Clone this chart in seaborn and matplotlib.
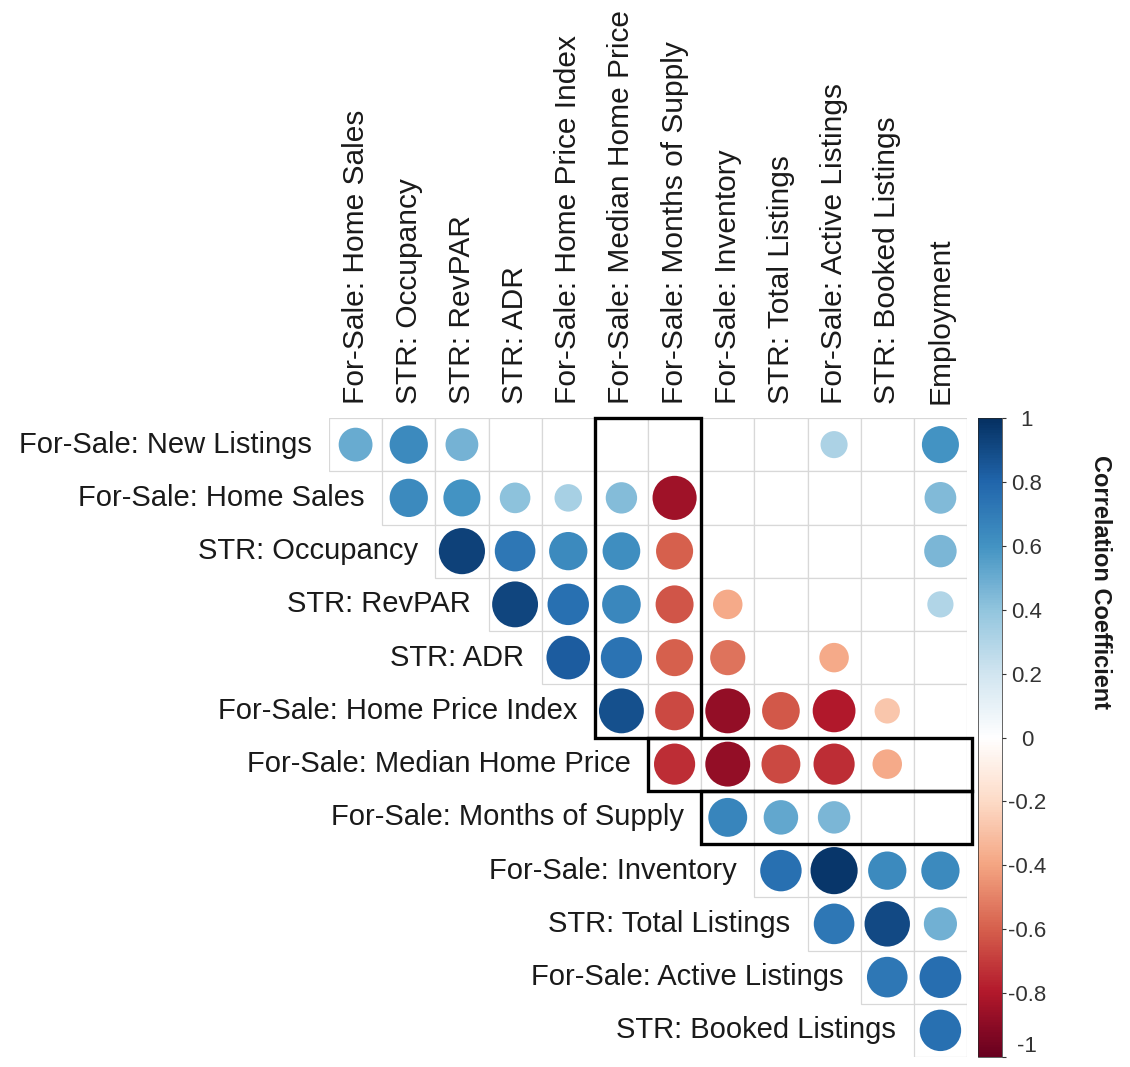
import numpy as np
import pandas as pd
import matplotlib
matplotlib.use("Agg")
import matplotlib.pyplot as plt
from matplotlib.colors import LinearSegmentedColormap, Normalize
from matplotlib.patches import Rectangle
from matplotlib.cm import ScalarMappable
import seaborn as sns

# ---------------- data ----------------
row_labels = ["For-Sale: New Listings", "For-Sale: Home Sales", "STR: Occupancy",
              "STR: RevPAR", "STR: ADR", "For-Sale: Home Price Index",
              "For-Sale: Median Home Price", "For-Sale: Months of Supply",
              "For-Sale: Inventory", "STR: Total Listings",
              "For-Sale: Active Listings", "STR: Booked Listings"]
col_labels = ["For-Sale: Home Sales", "STR: Occupancy", "STR: RevPAR", "STR: ADR",
              "For-Sale: Home Price Index", "For-Sale: Median Home Price",
              "For-Sale: Months of Supply", "For-Sale: Inventory",
              "STR: Total Listings", "For-Sale: Active Listings",
              "STR: Booked Listings", "Employment"]
N = None  # not significant (blank cell)
# each row starts at the column with the same index (upper triangle)
r_new_listings = [0.50, 0.64, 0.47, N, N, N, N, N, N, 0.32, N, 0.60]
r_home_sales = [0.64, 0.60, 0.41, 0.33, 0.43, -0.85, N, N, N, N, 0.44]
r_occupancy = [0.93, 0.72, 0.64, 0.62, -0.60, N, N, N, N, 0.46]
r_revpar = [0.92, 0.75, 0.65, -0.63, -0.38, N, N, N, 0.30]
r_adr = [0.83, 0.74, -0.60, -0.54, N, -0.38, N, N]
r_hpi = [0.88, -0.66, -0.88, -0.62, -0.80, -0.28, N]
r_mhp = [-0.74, -0.88, -0.66, -0.74, -0.38, N]
r_mos = [0.66, 0.52, 0.46, N, N]
r_inventory = [0.75, 0.97, 0.64, 0.64]
r_total = [0.72, 0.90, 0.48]
r_active = [0.72, 0.76]
r_booked = [0.75]
rows_values = [r_new_listings, r_home_sales, r_occupancy, r_revpar, r_adr, r_hpi,
               r_mhp, r_mos, r_inventory, r_total, r_active, r_booked]

# ---------------- long form table ----------------
recs = []
for i, vals in enumerate(rows_values):
    for k, v in enumerate(vals):
        j = i + k
        recs.append({"row": i, "col": j, "r": v})
cells = pd.DataFrame(recs)
pts = cells.dropna(subset=["r"]).copy()
pts["r"] = pts["r"].astype(float)
pts["absr"] = pts["r"].abs()

cmap = LinearSegmentedColormap.from_list(
    "corrRdBu",
    ["#67001F", "#B2182B", "#D6604D", "#F4A582", "#FDDBC7", "#FFFFFF",
     "#D1E5F0", "#92C5DE", "#4393C3", "#2166AC", "#053061"])

sns.set_theme(style="white")
plt.rcParams["font.family"] = ["Liberation Sans", "DejaVu Sans"]

W, H = 1130, 1067
fig = plt.figure(figsize=(W / 100, H / 100), dpi=100)
gx0, gx1, gy0, gy1 = 329, 967, 418, 1057
ax = fig.add_axes([gx0 / W, 1 - gy1 / H, (gx1 - gx0) / W, (gy1 - gy0) / H])

# cell grid
for _, c in cells.iterrows():
    ax.add_patch(Rectangle((c["col"] - 0.5, c["row"] - 0.5), 1, 1,
                           facecolor="white", edgecolor="#d8d8d8", lw=0.9, zorder=1))

cell_pt = (gx1 - gx0) / 12 * 0.72
dmax = 0.9 * cell_pt
sns.scatterplot(data=pts, x="col", y="row", hue="r", palette=cmap, hue_norm=(-1, 1),
                size="absr", sizes=(0, dmax ** 2), size_norm=(0, 1),
                linewidth=0, legend=False, ax=ax, zorder=3)

ax.set_xlim(-0.5, 11.5)
ax.set_ylim(11.5, -0.5)
ax.set_xlabel("")
ax.set_ylabel("")
for s in ax.spines.values():
    s.set_visible(False)
ax.set_yticks([])
ax.xaxis.tick_top()
ax.set_xticks(range(len(col_labels)))
ax.set_xticklabels(col_labels, rotation=90, fontsize=21.5, color="#1a1a1a")
ax.tick_params(axis="x", length=0, pad=10)

for i, lab in enumerate(row_labels):
    ax.text(i - 0.5 - 0.33, i, lab, ha="right", va="center", fontsize=21,
            color="#1a1a1a")

# highlight boxes
box_kw = dict(facecolor="none", edgecolor="black", lw=2.4, zorder=5, clip_on=False)
ax.add_patch(Rectangle((4.5, -0.5), 2, 6, **box_kw))
ax.add_patch(Rectangle((5.5, 5.5), 6.1, 1, **box_kw))
ax.add_patch(Rectangle((6.5, 6.5), 5.1, 1, **box_kw))

# colorbar
cax = fig.add_axes([978 / W, 1 - gy1 / H, 24 / W, (gy1 - gy0) / H])
sm = ScalarMappable(norm=Normalize(-1, 1), cmap=cmap)
cb = fig.colorbar(sm, cax=cax)
ticks = np.round(np.arange(-1, 1.01, 0.2), 1)
cb.set_ticks(ticks)
cb.set_ticklabels([("%g" % t) if abs(t) > 1e-9 else "0" for t in ticks])
cax.tick_params(labelsize=16, colors="#333333", length=3, width=0.8)
for lbl in cax.get_yticklabels():
    lbl.set_horizontalalignment("center")
cax.get_yticklabels()[0].set_verticalalignment("bottom")
cax.tick_params(pad=15)
cb.outline.set_linewidth(0.5)
fig.text(1100 / W, 1 - 582 / H, "Correlation Coefficient", rotation=270,
         ha="center", va="center", fontsize=17, fontweight="bold", color="#1a1a1a")

fig.savefig("out.png", dpi=100, facecolor="white")
